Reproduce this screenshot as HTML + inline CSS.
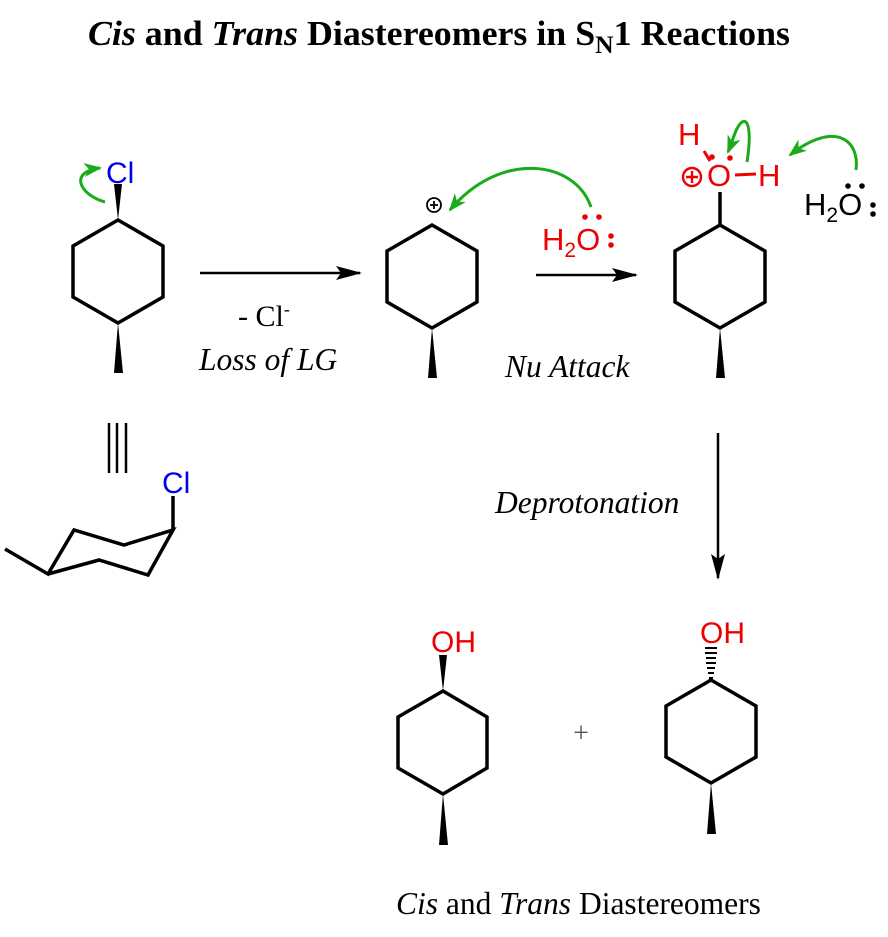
<!DOCTYPE html>
<html><head><style>body{margin:0;background:#fff}svg{display:block}</style></head>
<body>
<svg width="888" height="937" viewBox="0 0 888 937" xmlns="http://www.w3.org/2000/svg">
<defs>
<marker id="ah" markerWidth="26" markerHeight="14" refX="24" refY="7" orient="auto" markerUnits="userSpaceOnUse"><path d="M0,0 L26,7 L0,14 L5,7 Z" fill="#000"/></marker>
<marker id="gh" markerWidth="18" markerHeight="14" refX="16" refY="7" orient="auto" markerUnits="userSpaceOnUse"><path d="M0,0 L18,7 L0,14 L5,7 Z" fill="#1aab1a"/></marker>
</defs>
<g font-family="Liberation Serif, serif" fill="#000">
<text x="439" y="45" text-anchor="middle" font-size="35" font-weight="bold" textLength="702" lengthAdjust="spacingAndGlyphs"><tspan font-style="italic">Cis</tspan> and <tspan font-style="italic">Trans</tspan> Diastereomers in S<tspan font-size="25" dy="8">N</tspan><tspan dy="-8">1 Reactions</tspan></text>
<text x="238" y="326" font-size="30">- Cl<tspan font-size="18" dy="-11">-</tspan></text>
<text x="199" y="370" font-size="31.5" font-style="italic">Loss of LG</text>
<text x="505" y="377" font-size="31.5" font-style="italic">Nu Attack</text>
<text x="495" y="513" font-size="31.5" font-style="italic">Deprotonation</text>
<text x="581" y="742" font-size="28" text-anchor="middle" fill="#555">+</text>
<text x="396" y="914" font-size="31.5"><tspan font-style="italic">Cis</tspan> and <tspan font-style="italic">Trans</tspan> Diastereomers</text>
</g>
<g stroke="#000" stroke-width="3.5" fill="none" stroke-linejoin="miter">
<polygon points="118,220 163,246 163,297 118,323 73,297 73,246"/>
<polygon points="432,225 477,251 477,302 432,328 387,302 387,251"/>
<polygon points="720,225 765,251 765,302 720,328 675,302 675,251"/>
<polygon points="443,691 487,717 487,768 443,794 398,768 398,717"/>
<polygon points="711,680 756,706 756,757 711,783 666,757 666,706"/>
<polyline points="5,549 48,574 74,530 124,545 173,530 148,575 99,560 48,574"/>
<line x1="173" y1="530" x2="173" y2="496"/>
<line x1="720" y1="225" x2="720" y2="192"/>
<line x1="109" y1="423" x2="109" y2="473" stroke-width="2.5"/>
<line x1="117" y1="423" x2="117" y2="473" stroke-width="2.5"/>
<line x1="126" y1="423" x2="126" y2="473" stroke-width="2.5"/>
<line x1="200" y1="273" x2="360" y2="273" stroke-width="2.5" marker-end="url(#ah)"/>
<line x1="536" y1="275" x2="636" y2="275" stroke-width="2.5" marker-end="url(#ah)"/>
<line x1="718" y1="433" x2="718" y2="578" stroke-width="2.5" marker-end="url(#ah)"/>
<line x1="704" y1="151" x2="710" y2="161" stroke="#e00" stroke-width="3"/>
<line x1="735" y1="175" x2="756" y2="174" stroke="#e00" stroke-width="3"/>
</g>
<g fill="#000">
<polygon points="118,220 114,184 122,184"/>
<polygon points="118,323 114,373 123,373"/>
<polygon points="432,328 428,378 437,378"/>
<polygon points="720,328 716,378 725,378"/>
<polygon points="443,691 439,655 447,655"/>
<polygon points="443,794 439,845 448,845"/>
<polygon points="711,783 707,834 716,834"/>
</g>
<g stroke="#000" stroke-width="2">
<line x1="709" y1="678" x2="713" y2="678"/><line x1="708" y1="673" x2="714" y2="673"/><line x1="707" y1="668" x2="715" y2="668"/><line x1="706" y1="663" x2="716" y2="663"/><line x1="706" y1="658" x2="716" y2="658"/><line x1="705" y1="653" x2="717" y2="653"/><line x1="705" y1="648" x2="717" y2="648"/>
</g>
<g font-family="Liberation Sans, sans-serif" font-size="30">
<text x="106" y="183" fill="#0000ee">Cl</text>
<text x="162" y="493" fill="#0000ee">Cl</text>
<text x="431" y="652" fill="#ee0000">OH</text>
<text x="700" y="643" fill="#ee0000">OH</text>
<text x="542" y="250" fill="#ee0000" font-size="31">H<tspan font-size="21" dy="7">2</tspan><tspan dy="-7">O</tspan></text>
<text x="804" y="215" fill="#000" font-size="31">H<tspan font-size="21" dy="7">2</tspan><tspan dy="-7">O</tspan></text>
<text x="678" y="145" fill="#ee0000" font-size="31">H</text>
<text x="707" y="186" fill="#ee0000" font-size="31">O</text>
<text x="758" y="186" fill="#ee0000" font-size="31">H</text>
</g>
<g fill="#ee0000">
<circle cx="585" cy="217" r="2.8"/><circle cx="599" cy="217" r="2.8"/>
<circle cx="611" cy="236" r="2.8"/><circle cx="611" cy="245" r="2.8"/>
<circle cx="712" cy="157" r="2.8"/><circle cx="730" cy="158" r="2.8"/>
</g>
<g fill="#000">
<circle cx="848" cy="186" r="2.8"/><circle cx="862" cy="186" r="2.8"/>
<circle cx="873" cy="205" r="2.8"/><circle cx="873" cy="214" r="2.8"/>
</g>
<g fill="none">
<circle cx="434" cy="205" r="7" stroke="#000" stroke-width="1.8"/>
<path d="M430,205h8M434,201v8" stroke="#000" stroke-width="1.8"/>
<circle cx="692" cy="177" r="9" stroke="#ee0000" stroke-width="2.4"/>
<path d="M686,177h12M692,171v12" stroke="#ee0000" stroke-width="2.4"/>
</g>
<g stroke="#1aab1a" stroke-width="3" fill="none">
<path d="M105,202 C80,195 68,172 100,168" marker-end="url(#gh)"/>
<path d="M591,207 C575,160 500,150 450,210" marker-end="url(#gh)"/>
<path d="M747,162 C752,130 748,115 740,124 C735,130 733,140 728,152" marker-end="url(#gh)"/>
<path d="M856,170 C860,140 835,120 790,155" marker-end="url(#gh)"/>
</g>
</svg>
</body></html>
